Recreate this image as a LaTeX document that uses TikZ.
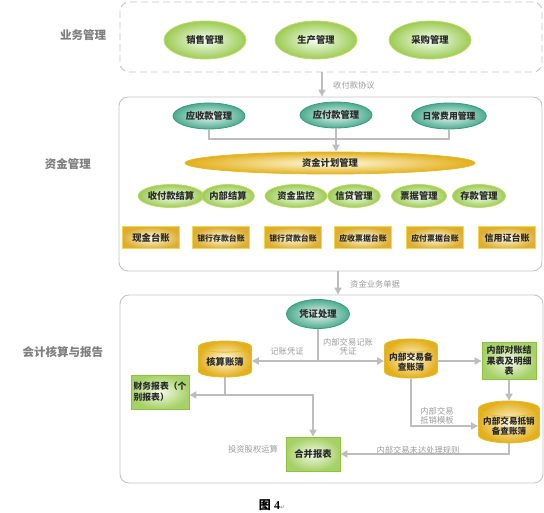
\documentclass[tikz,border=0pt]{standalone}
\usepackage{fontspec}
\newfontfamily\cjk{Noto Sans CJK SC}
\newfontfamily\symf{DejaVu Sans}
\newfontfamily\serifb{Liberation Serif}
\usetikzlibrary{shapes.geometric,arrows.meta,positioning}
\definecolor{lineg}{HTML}{BDBDBD}
\definecolor{boxg}{HTML}{C4C4C4}
\definecolor{labg}{HTML}{9A9A9A}
\definecolor{sideg}{HTML}{7E7E7E}
\definecolor{txt}{HTML}{2A2A2A}
\tikzset{
  bigbox/.style={draw=boxg, line width=0.9pt, rounded corners=9pt, rectangle, inner sep=0pt},
  nodetext/.style={font=\cjk\bfseries\fontsize{9.3}{11}\selectfont, text=txt, align=center, inner sep=1pt},
  greenell/.style={nodetext, ellipse, draw=HTML-greenedge, line width=0.8pt, shading=radial, inner color=green!4!white, outer color=greenout},
  tealell/.style={nodetext, ellipse, draw=tealedge, line width=0.8pt, shading=radial, inner color=tealin, outer color=tealout},
  goldell/.style={nodetext, ellipse, draw=goldedge, line width=0.8pt, shading=radial, inner color=goldin, outer color=goldout},
  goldbox/.style={nodetext, rectangle, draw=goldboxedge, line width=1pt, shading=radial, inner color=goldin, outer color=goldboxout},
  greenbox/.style={nodetext, rectangle, draw=greenboxedge, line width=0.9pt, shading=radial, inner color=greenin, outer color=greenboxout},
  goldcyl/.style={nodetext, cylinder, shape border rotate=90, aspect=0.3, draw=goldedge, line width=0.8pt, shading=radial, inner color=goldin, outer color=goldout},
  gline/.style={draw=lineg, line width=1.8pt},
  arr/.style={gline, -{Triangle[width=7pt,length=7pt]}},
  clabel/.style={font=\cjk\fontsize{8.3}{9.5}\selectfont, text=labg, align=center, inner sep=0pt},
  side/.style={font=\cjk\bfseries\fontsize{11.5}{13}\selectfont, text=sideg, inner sep=0pt},
}
\definecolor{HTML-greenedge}{HTML}{BEDA6A}
\definecolor{greenout}{HTML}{9DCB52}
\definecolor{greenin}{HTML}{F4F9E8}
\definecolor{tealedge}{HTML}{3A9A80}
\definecolor{tealin}{HTML}{E8F5F0}
\definecolor{tealout}{HTML}{4DAC8E}
\definecolor{goldedge}{HTML}{E2BC2A}
\definecolor{goldin}{HTML}{FFFBE2}
\definecolor{goldout}{HTML}{E3AF1C}
\definecolor{goldboxedge}{HTML}{F4D845}
\definecolor{goldboxout}{HTML}{DDAE32}
\definecolor{greenboxedge}{HTML}{8CC43C}
\definecolor{greenboxout}{HTML}{A6D168}
\begin{document}
\begin{tikzpicture}[x=1pt,y=-1pt]
\useasboundingbox (0,0) rectangle (544,513);
% side labels
\node[side] (s1) at (83,35) {业务管理};
\node[side] (s2) at (68,164) {资金管理};
\node[side] (s3) at (63,352) {会计核算与报告};
% big boxes
\node[bigbox, dashed, dash pattern=on 7pt off 4pt, minimum width=422pt, minimum height=70pt] (B1) at (331,37) {};
\node[bigbox, minimum width=423pt, minimum height=174pt] (B2) at (330.5,184) {};
\node[bigbox, minimum width=423pt, minimum height=188pt] (B3) at (331.5,389) {};
% row 1
\node[greenell, minimum width=82pt, minimum height=38pt] (xs) at (205,40) {销售管理};
\node[greenell, minimum width=82pt, minimum height=38pt] (sc) at (316,40) {生产管理};
\node[greenell, minimum width=82pt, minimum height=38pt] (cg) at (430,40) {采购管理};
% arrow 1
\draw[arr] ([xshift=-9pt]B1.south) -- ([xshift=-8.5pt]B2.north);
\node[clabel, anchor=west] (l1) at (333,85) {收付款协议};
% teal row
\node[tealell, minimum width=72pt, minimum height=26pt, inner sep=0pt] (ys) at (209,116) {应收款管理};
\node[tealell, minimum width=72pt, minimum height=26pt, inner sep=0pt] (yf) at (336,115) {应付款管理};
\node[tealell, minimum width=72pt, minimum height=26pt, inner sep=0pt, font=\cjk\bfseries\fontsize{8.8}{10}\selectfont] (rc) at (449,116) {日常费用管理};
\coordinate (j) at (336,139);
\draw[gline] (ys.south) -- (ys.south |- j) -- (rc.south |- j) -- (rc.south);
% plan
\node[goldell, minimum width=290pt, minimum height=22pt] (jh) at (330,163) {资金计划管理};
\draw[arr] (yf.south) -- (jh.north -| yf.south);
% green small ellipses
\foreach \n/\x/\t/\w in {e1/171/收付款结算/62, e2/228/内部结算/50, e3/296/资金监控/62, e4/354/信贷管理/52, e5/419/票据管理/55, e6/479/存款管理/53}{
  \node[greenell, minimum width=\w pt, minimum height=23pt, inner sep=0pt] (\n) at (\x,196) {\t};
}
% gold rectangles
\foreach \n/\x/\t/\f in {r1/151/现金台账/9.3, r2/221/银行存款台账/7.9, r3/293/银行贷款台账/7.9, r4/363/应收票据台账/7.9, r5/435/应付票据台账/7.9, r6/507/信用证台账/9}{
  \node[goldbox, minimum width=57pt, minimum height=22pt, inner sep=0pt, font=\cjk\bfseries\fontsize{\f}{10}\selectfont] (\n) at (\x,238) {\t};
}
% arrow 2
\draw[arr] ([xshift=7.5pt]B2.south) -- ([xshift=6.5pt]B3.north);
\node[clabel, anchor=west] (l2) at (350,284) {资金业务单据};
% accounting
\node[tealell, minimum width=63pt, minimum height=29pt, inner sep=0pt] (pz) at (318,314) {凭证处理};
\node[goldcyl, minimum width=53pt, minimum height=36pt, inner sep=0pt] (hs) at (225,362) {核算账簿};
\node[goldcyl, minimum width=53pt, minimum height=37pt, inner sep=0pt, font=\cjk\bfseries\fontsize{8.8}{10.5}\selectfont] (nb) at (411,362) {内部交易备\\查账簿};
\node[greenbox, minimum width=54pt, minimum height=37pt, inner sep=0pt, font=\cjk\bfseries\fontsize{9}{10.5}\selectfont] (dz) at (509,361) {内部对账结\\果表及明细\\表};
\node[goldcyl, minimum width=61pt, minimum height=36pt, inner sep=0pt, font=\cjk\bfseries\fontsize{8.6}{10}\selectfont] (dx) at (509,426) {内部交易抵销\\备查账簿};
\node[greenbox, minimum width=58pt, minimum height=34pt, inner sep=0pt, align=left, font=\cjk\bfseries\fontsize{8.8}{11}\selectfont] (cw) at (160,392) {财务报表（个\\别报表）};
\node[greenbox, minimum width=54pt, minimum height=34pt] (hb) at (313,454) {合并报表};
\coordinate (k1) at (318,361);
\coordinate (k2) at (225,395);
\draw[gline] (pz.south) -- (k1);
\draw[arr] (k1) -- (k1 -| hs.east);
\draw[arr] (k1) -- (k1 -| nb.west);
\draw[arr] (nb.east |- dz.west) -- (dz.west);
\draw[arr] (dz.south) -- (dx.north);
\draw[arr] (nb.south) |- (dx.west);
\draw[gline] (hs.south) -- (k2);
\draw[arr] (k2) -- (k2 -| cw.east);
\draw[arr] (k2) -| (hb.north);
\draw[arr] (dx.south) |- (hb.east);
% connector labels
\node[clabel] (t1) at (287,351) {记账凭证};
\node[clabel] (t2) at (348,347) {内部交易记账\\凭证};
\node[clabel] (t3) at (437,416) {内部交易\\抵销模板};
\node[clabel] (t4) at (253,449) {投资股权运算};
\node[clabel] (t5) at (418,450) {内部交易未达处理规则};
% caption
\node[inner sep=0pt, text=black] (cap) at (272,505) {{\cjk\bfseries\fontsize{12}{13}\selectfont 图} {\serifb\bfseries\fontsize{12}{13}\selectfont 4}{\symf\fontsize{6}{7}\selectfont\color{gray}↵}};
\end{tikzpicture}
\end{document}
